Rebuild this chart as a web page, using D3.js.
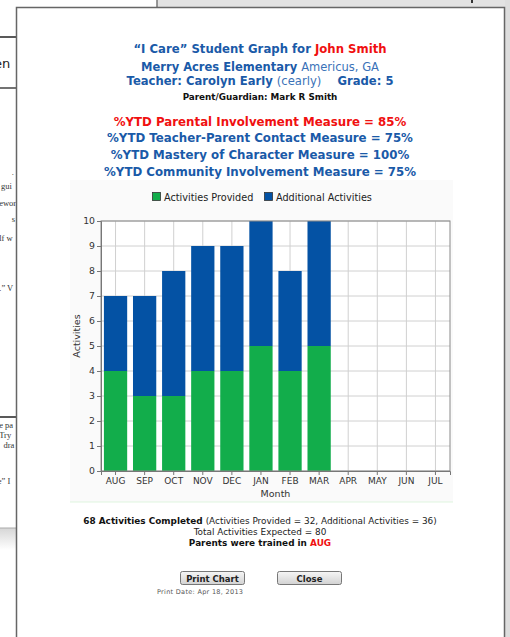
<!DOCTYPE html>
<html><head><meta charset="utf-8">
<script src="https://cdn.jsdelivr.net/npm/d3@7"></script>
<style>body{margin:0;background:#fff;overflow:hidden}svg{display:block}</style>
</head><body>
<script>
const months = ["AUG","SEP","OCT","NOV","DEC","JAN","FEB","MAR","APR","MAY","JUN","JUL"];
const provided = [4,3,3,4,4,5,4,5,0,0,0,0];
const additional = [3,4,5,5,5,5,4,5,0,0,0,0];
const yTicks = [0,1,2,3,4,5,6,7,8,9,10];
const seriesNames = ["Activities Provided","Additional Activities"];
const measures = [
  "%YTD Parental Involvement Measure = 85%",
  "%YTD Teacher-Parent Contact Measure = 75%",
  "%YTD Mastery of Character Measure = 100%",
  "%YTD Community Involvement Measure = 75%"
];
const bgFragments = [[".",175],["e gui",189],["ewor",206],["s",222],["lf w",241],["g.\u201D V",291],["e pa",428],[" Try",438],["dra",448],["re\u201D I",484]];

const W=510,H=637;
const svg=d3.select("body").append("svg").attr("width",W).attr("height",H);
const defs=svg.append("defs");
const sans="DejaVu Sans, Verdana, sans-serif";
const blue="#1a5aa8", red="#f01010";
const cGreen="#12ad4b", cBlue="#0452a4";

// background page
svg.append("rect").attr("x",157).attr("y",0).attr("width",W-157).attr("height",7).attr("fill","#e2e2e2");
svg.append("line").attr("x1",157).attr("x2",157).attr("y1",0).attr("y2",7).attr("stroke","#777").attr("stroke-width",1.5);
svg.append("rect").attr("x",471).attr("y",0).attr("width",2).attr("height",3).attr("fill","#333");
svg.append("rect").attr("x",505).attr("y",0).attr("width",5).attr("height",H).attr("fill","#ddd");
svg.append("line").attr("x1",0).attr("x2",16).attr("y1",37).attr("y2",37).attr("stroke","#222").attr("stroke-width",1.5);
svg.append("line").attr("x1",0).attr("x2",16).attr("y1",88).attr("y2",88).attr("stroke","#444").attr("stroke-width",1.5);
svg.append("line").attr("x1",0).attr("x2",16).attr("y1",417).attr("y2",417).attr("stroke","#222").attr("stroke-width",1.5);
const grad=defs.append("linearGradient").attr("id","g1").attr("x1",0).attr("x2",0).attr("y1",0).attr("y2",1);
grad.append("stop").attr("offset",0).attr("stop-color","#d6d6d6");
grad.append("stop").attr("offset",1).attr("stop-color","#fff");
svg.append("rect").attr("x",0).attr("y",528).attr("width",16).attr("height",22).attr("fill","url(#g1)");
svg.append("line").attr("x1",0).attr("x2",16).attr("y1",528).attr("y2",528).attr("stroke","#aaa");
defs.append("clipPath").attr("id","clipL").append("rect").attr("x",0).attr("y",0).attr("width",16).attr("height",H);
const gl=svg.append("g").attr("clip-path","url(#clipL)");
gl.append("text").attr("x",-6).attr("y",68).text("en").attr("font-family",sans).attr("font-size",13).attr("fill","#222");
gl.selectAll("text.f").data(bgFragments).join("text").attr("class","f")
  .attr("x",d=>16-d[0].length*4.2).attr("y",d=>d[1]).text(d=>d[0])
  .attr("font-family","Liberation Serif, serif").attr("font-size",8.5).attr("fill","#333");

// modal
svg.append("rect").attr("x",16.5).attr("y",7.5).attr("width",488).attr("height",H).attr("fill","#fff").attr("stroke","#666").attr("stroke-width",1.5);

// header
function line(y,parts,size,anchorX=260){
  const t=svg.append("text").attr("x",anchorX).attr("y",y).attr("text-anchor","middle").attr("font-family",sans).attr("font-size",size);
  parts.forEach(p=>t.append("tspan").text(p[0]).attr("fill",p[1]).attr("font-weight",p[2]?"bold":"normal"));
  return t;
}
line(53,[["\u201CI Care\u201D Student Graph for ",blue,1],["John Smith",red,1]],11.7);
line(71,[["Merry Acres Elementary ",blue,1],["Americus, GA","#3a72b8",0]],11.5);
line(85,[["Teacher: Carolyn Early ",blue,1],["(cearly)","#3a72b8",0],["\u00A0\u00A0\u00A0 Grade: 5",blue,1]],11.6);
line(100,[["Parent/Guardian: Mark R Smith","#111",1]],8.8);
measures.forEach((m,i)=>line([126,142,159,176][i],[[m,i==0?red:blue,1]],11.8));

// chart panel
svg.append("rect").attr("x",70).attr("y",180).attr("width",383).attr("height",322).attr("fill","#fafafa");
svg.append("line").attr("x1",70).attr("x2",453).attr("y1",502).attr("y2",502).attr("stroke","#dff5df");

// legend
const leg=svg.append("g").attr("font-family",sans).attr("font-size",9.7);
[[152,seriesNames[0],cGreen],[264,seriesNames[1],cBlue]].forEach(([x,n,c])=>{
  leg.append("rect").attr("x",x+0.5).attr("y",192.5).attr("width",8).attr("height",8).attr("fill",c).attr("stroke","#333").attr("stroke-width",0.8);
  leg.append("text").attr("x",x+12).attr("y",200.5).text(n).attr("fill","#222");
});

// plot
const m={l:101,r:450,t:221,b:471};
const x=d3.scaleBand().domain(months).range([m.l,m.r]).paddingInner(0.2).paddingOuter(0.1);
const y=d3.scaleLinear().domain([0,10]).range([m.b,m.t]);
svg.append("rect").attr("x",m.l).attr("y",m.t).attr("width",m.r-m.l).attr("height",m.b-m.t).attr("fill","#fff");
const g=svg.append("g");
g.selectAll("line.hg").data(yTicks).join("line").attr("x1",m.l).attr("x2",m.r).attr("y1",d=>y(d)).attr("y2",d=>y(d)).attr("stroke","#d0d0d0");
g.selectAll("line.vg").data(months).join("line").attr("x1",d=>x(d)+x.bandwidth()/2).attr("x2",d=>x(d)+x.bandwidth()/2).attr("y1",m.t).attr("y2",m.b).attr("stroke","#d0d0d0");
const data=months.map((mo,i)=>({mo,p:provided[i],a:additional[i]}));
g.selectAll("rect.p").data(data).join("rect").attr("x",d=>x(d.mo)).attr("width",x.bandwidth()).attr("y",d=>y(d.p)).attr("height",d=>y(0)-y(d.p)).attr("fill",cGreen);
g.selectAll("rect.a").data(data).join("rect").attr("x",d=>x(d.mo)).attr("width",x.bandwidth()).attr("y",d=>y(d.p+d.a)).attr("height",d=>y(d.p)-y(d.p+d.a)).attr("fill",cBlue);
svg.append("rect").attr("x",m.l).attr("y",m.t).attr("width",m.r-m.l).attr("height",m.b-m.t).attr("fill","none").attr("stroke","#888");

const ya=svg.append("g").attr("transform",`translate(${m.l},0)`).call(d3.axisLeft(y).tickValues(yTicks).tickSize(4).tickPadding(2));
ya.select(".domain").attr("stroke","#777");
ya.selectAll(".tick line").attr("stroke","#777");
ya.selectAll("text").attr("font-family",sans).attr("font-size",9.3).attr("fill","#333");
const xa=svg.append("g").attr("transform",`translate(0,${m.b})`).call(d3.axisBottom(x).tickSize(4).tickPadding(3));
xa.select(".domain").attr("stroke","#777");
xa.selectAll(".tick line").attr("stroke","#777");
xa.selectAll("text").attr("font-family",sans).attr("font-size",9).attr("fill","#333");
svg.append("text").attr("x",(m.l+m.r)/2).attr("y",497).attr("text-anchor","middle").text("Month").attr("font-family",sans).attr("font-size",9.5).attr("fill","#333");
svg.append("text").attr("transform","translate(80,336) rotate(-90)").attr("text-anchor","middle").text("Activities").attr("font-family",sans).attr("font-size",9.5).attr("fill","#333");

// bottom
line(524,[["68 Activities Completed ","#111",1],["(Activities Provided = 32, Additional Activities = 36)","#222",0]],8.9);
line(535,[["Total Activities Expected = 80","#222",0]],8.9);
line(546,[["Parents were trained in ","#111",1],["AUG",red,1]],8.9);

// buttons
const bg2=defs.append("linearGradient").attr("id","bt").attr("x1",0).attr("x2",0).attr("y1",0).attr("y2",1);
bg2.append("stop").attr("offset",0).attr("stop-color","#f6f6f6");
bg2.append("stop").attr("offset",1).attr("stop-color","#d2d2d2");
[[180,"Print Chart"],[277,"Close"]].forEach(([bx,t])=>{
  svg.append("rect").attr("x",bx+0.5).attr("y",571.5).attr("width",64).attr("height",13).attr("rx",2).attr("fill","url(#bt)").attr("stroke","#777");
  svg.append("text").attr("x",bx+32.5).attr("y",581.5).attr("text-anchor","middle").text(t).attr("font-family",sans).attr("font-size",8.5).attr("font-weight","bold").attr("fill","#222");
});
svg.append("text").attr("x",157).attr("y",594).text("Print Date: Apr 18, 2013").attr("font-family",sans).attr("font-size",6.5).attr("fill","#555").attr("letter-spacing",0.3);
</script>
</body></html>
